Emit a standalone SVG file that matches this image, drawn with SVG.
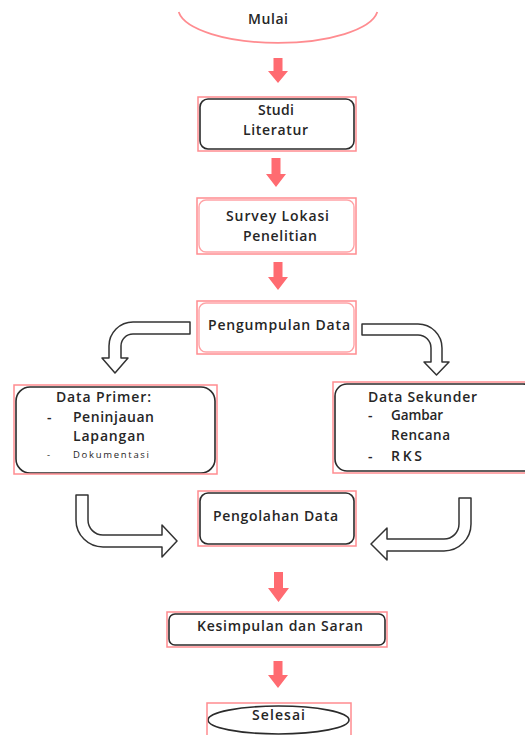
<svg xmlns="http://www.w3.org/2000/svg" width="525" height="735" viewBox="0 0 525 735">
<style>
  .pink { fill: none; stroke: #ff8c90; stroke-width: 1.5; }
  .inner { fill: #fff; stroke: #2b2b2b; stroke-width: 1.6; }
  .innerp { fill: #fff; stroke: #ffa3a6; stroke-width: 1.4; }
  .t { font-family: "Open Sans", "DejaVu Sans", sans-serif; font-size: 14px; font-weight: 600; fill: #262626; }
  .c { text-anchor: middle; }
  .sub { font-size: 13.5px; }
  .small { font-size: 9.5px; font-weight: 400; }
  .red { fill: #ff6b71; stroke: none; }
  .hollow { fill: #fff; stroke: #333; stroke-width: 1.5; stroke-linejoin: round; }
</style>
<rect width="525" height="735" fill="#fff"/>

<g id="connectors">
  <path class="red" d="M273.5,58 H282.5 V71 H288 L278,83 L268,71 H273.5 Z"/>
  <path class="red" d="M271.5,158 H280.5 V174 H286 L276,187 L266,174 H271.5 Z"/>
  <path class="red" d="M273.5,262 H282.5 V277 H288 L278,290 L268,277 H273.5 Z"/>
  <path class="red" d="M274,572 H283 V588 H289 L278.5,602 L268,588 H274 Z"/>
  <path class="red" d="M273.5,661 H282.5 V675 H288 L278,688 L268,675 H273.5 Z"/>
  <path class="hollow" d="M190,322 L133,322 A24,24 0 0 0 109,346 L109,358 L102,358 L115,373 L128,358 L121,358 L121,346 A12,12 0 0 1 133,334 L190,334 Z"/>
  <path class="hollow" d="M362,324 L418,324 A24,24 0 0 1 442,348 L442,362 L449,362 L436.5,375 L424,362 L431,362 L431,348 A13,13 0 0 0 418,335 L362,335 Z"/>
  <path class="hollow" d="M76,495 L88,495 L88,520 A15,15 0 0 0 103,535 L162,535 L162,525 L177,541 L162,557 L162,547 L103,547 A27,27 0 0 1 76,520 Z"/>
  <path class="hollow" d="M459,498 L471,498 L471,524 A27,27 0 0 1 444,551 L387,551 L387,560 L371,544 L387,528 L387,539 L444,539 A15,15 0 0 0 459,524 Z"/>
</g>

<g id="mulai">
  <path d="M178.7,12 A100,35 0 0 0 377.3,12" fill="none" stroke="#ff8c90" stroke-width="1.8"/>
  <text class="t c" x="268" y="24" textLength="40">Mulai</text>
</g>

<g id="studi-literatur">
  <rect class="inner" x="200" y="99" width="154" height="50" rx="8"/>
  <rect class="pink" x="198" y="97" width="158" height="54"/>
  <text class="t c" x="276" y="115" textLength="36">Studi</text>
  <text class="t c" x="275.5" y="135" textLength="65">Literatur</text>
</g>

<g id="survey-lokasi">
  <rect class="innerp" x="199" y="200" width="155" height="52" rx="7"/>
  <rect class="pink" x="197" y="198" width="159" height="56"/>
  <text class="t c" x="277.5" y="221" textLength="103">Survey Lokasi</text>
  <text class="t c" x="280" y="241" textLength="74">Penelitian</text>
</g>

<g id="pengumpulan-data">
  <rect class="innerp" x="199" y="303" width="155" height="49" rx="7"/>
  <rect class="pink" x="197" y="301" width="159" height="53"/>
  <text class="t c" x="279" y="330" textLength="142">Pengumpulan Data</text>
</g>

<g id="data-primer">
  <rect class="inner" x="16" y="387" width="199" height="86" rx="14"/>
  <rect class="pink" x="14" y="385" width="203" height="89"/>
  <text class="t" x="56" y="402" textLength="95">Data Primer:</text>
  <text class="t" x="47" y="422">-</text>
  <text class="t" x="73" y="422" textLength="81">Peninjauan</text>
  <text class="t" x="73" y="441" textLength="72">Lapangan</text>
  <text class="t small" x="47" y="458">-</text>
  <text class="t small" x="73" y="458" textLength="76">Dokumentasi</text>
</g>

<g id="data-sekunder">
  <rect class="inner" x="335" y="384" width="200" height="87" rx="12"/>
  <rect class="pink" x="333" y="382" width="200" height="91"/>
  <text class="t" x="368" y="402" textLength="109">Data Sekunder</text>
  <text class="t" x="368" y="420">-</text>
  <text class="t sub" x="391" y="420" textLength="52">Gambar</text>
  <text class="t sub" x="391" y="440" textLength="59">Rencana</text>
  <text class="t" x="368" y="461">-</text>
  <text class="t" x="391" y="461" textLength="31">RKS</text>
</g>

<g id="pengolahan-data">
  <rect class="inner" x="200" y="493" width="154" height="51" rx="8"/>
  <rect class="pink" x="198" y="491" width="158" height="55"/>
  <text class="t c" x="275.5" y="521" textLength="125">Pengolahan Data</text>
</g>

<g id="kesimpulan">
  <rect class="inner" x="169" y="614" width="216" height="31" rx="6"/>
  <rect class="pink" x="167" y="612" width="220" height="35"/>
  <text class="t c" x="280" y="631" textLength="166">Kesimpulan dan Saran</text>
</g>

<g id="selesai">
  <ellipse cx="278.5" cy="720" rx="70.5" ry="14" fill="#fff" stroke="#2b2b2b" stroke-width="1.6"/>
  <rect class="pink" x="207" y="703" width="144" height="40"/>
  <text class="t c" x="278.5" y="720" textLength="53">Selesai</text>
</g>
</svg>
